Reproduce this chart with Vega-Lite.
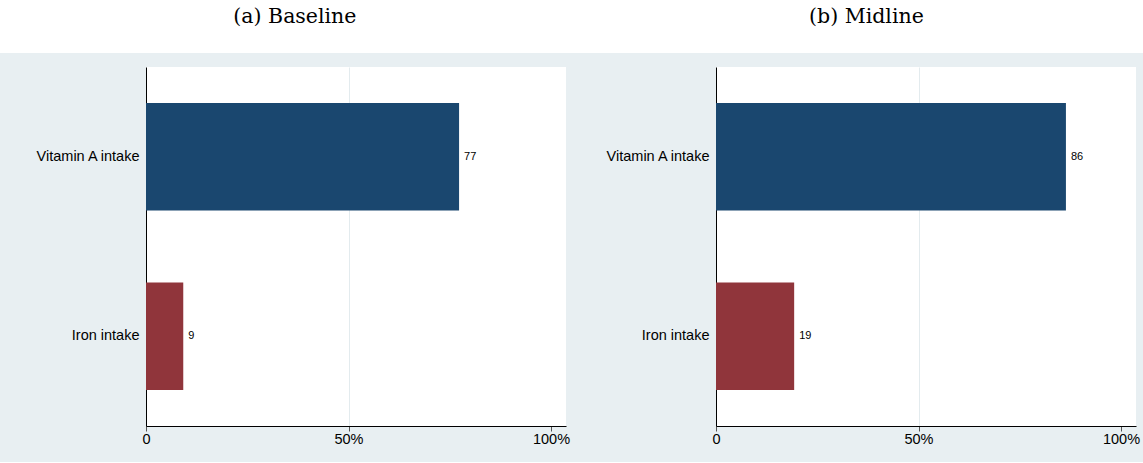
{
  "$schema": "https://vega.github.io/schema/vega-lite/v6.json",
  "background": "#e8eff2",
  "padding": {"left": 0, "top": 0, "right": 0, "bottom": 16},
  "datasets": {
    "titles": [{"panel": "(a) Baseline"}, {"panel": "(b) Midline"}],
    "bars": [
      {"panel": "(a) Baseline", "item": "Vitamin A intake", "value": 77.3},
      {"panel": "(a) Baseline", "item": "Iron intake", "value": 9.2},
      {"panel": "(b) Midline", "item": "Vitamin A intake", "value": 86.4},
      {"panel": "(b) Midline", "item": "Iron intake", "value": 19.3}
    ],
    "empty": []
  },
  "config": {
    "view": {"stroke": null},
    "axis": {"labelFont": "Liberation Sans", "labelColor": "#000000"}
  },
  "columns": 1,
  "spacing": 14,
  "concat": [
    {
      "width": 1143,
      "height": 53,
      "view": {"fill": "white", "stroke": null},
      "data": {"name": "titles"},
      "mark": {"type": "text", "font": "DejaVu Serif", "fontSize": 20.5, "baseline": "alphabetic", "dy": -3.5, "color": "#000000"},
      "encoding": {
        "x": {"field": "panel", "type": "nominal", "scale": {"type": "point", "padding": 0.5, "align": 0.516}, "axis": null},
        "text": {"field": "panel"}
      }
    },
    {
      "hconcat": [
        {
          "width": 8,
          "height": 359,
          "view": {"fill": "#e8eff2", "stroke": null},
          "data": {"name": "empty"},
          "mark": "point"
        },
        {
          "width": 420,
          "height": 359,
          "view": {"fill": "white", "stroke": null},
          "data": {"name": "bars"},
          "transform": [{"filter": "datum.panel === '(a) Baseline'"}],
          "encoding": {
            "y": {"field": "item", "type": "nominal", "sort": null,
                  "scale": {"paddingInner": 0.4, "paddingOuter": 0.2},
                  "axis": {"title": null, "domainColor": "#000000", "ticks": false, "tickSize": 0, "labelPadding": 7, "labelFontSize": 14.5, "minExtent": 132, "grid": false}},
            "x": {"field": "value", "type": "quantitative",
                  "scale": {"domain": [0, 103.7], "nice": false, "zero": true},
                  "axis": {"title": null, "values": [0, 50, 100], "labelExpr": "datum.value === 0 ? '0' : datum.value + '%'", "domainColor": "#000000", "tickColor": "#555555", "tickSize": 5, "labelPadding": 1, "labelFontSize": 14.5, "labelFlush": false, "labelOverlap": false, "grid": true, "gridColor": {"condition": {"test": "datum.value === 50", "value": "#e3ebee"}, "value": "transparent"}}}
          },
          "layer": [
            {"mark": {"type": "bar"},
             "encoding": {"color": {"field": "item", "type": "nominal", "scale": {"domain": ["Vitamin A intake", "Iron intake"], "range": ["#1a476f", "#90353b"]}, "legend": null}}},
            {"mark": {"type": "text", "align": "left", "baseline": "middle", "dx": 5, "fontSize": 11, "font": "Liberation Sans", "color": "#000000"},
             "encoding": {"text": {"field": "value", "type": "quantitative", "format": ".0f"}}}
          ]
        },
        {
          "width": 420,
          "height": 359,
          "view": {"fill": "white", "stroke": null},
          "data": {"name": "bars"},
          "transform": [{"filter": "datum.panel === '(b) Midline'"}],
          "encoding": {
            "y": {"field": "item", "type": "nominal", "sort": null,
                  "scale": {"paddingInner": 0.4, "paddingOuter": 0.2},
                  "axis": {"title": null, "domainColor": "#000000", "ticks": false, "tickSize": 0, "labelPadding": 7, "labelFontSize": 14.5, "minExtent": 140, "grid": false}},
            "x": {"field": "value", "type": "quantitative",
                  "scale": {"domain": [0, 103.7], "nice": false, "zero": true},
                  "axis": {"title": null, "values": [0, 50, 100], "labelExpr": "datum.value === 0 ? '0' : datum.value + '%'", "domainColor": "#000000", "tickColor": "#555555", "tickSize": 5, "labelPadding": 1, "labelFontSize": 14.5, "labelFlush": false, "labelOverlap": false, "grid": true, "gridColor": {"condition": {"test": "datum.value === 50", "value": "#e3ebee"}, "value": "transparent"}}}
          },
          "layer": [
            {"mark": {"type": "bar"},
             "encoding": {"color": {"field": "item", "type": "nominal", "scale": {"domain": ["Vitamin A intake", "Iron intake"], "range": ["#1a476f", "#90353b"]}, "legend": null}}},
            {"mark": {"type": "text", "align": "left", "baseline": "middle", "dx": 5, "fontSize": 11, "font": "Liberation Sans", "color": "#000000"},
             "encoding": {"text": {"field": "value", "type": "quantitative", "format": ".0f"}}}
          ]
        }
      ],
      "spacing": 6,
      "resolve": {"scale": {"x": "independent", "y": "independent", "color": "independent"}}
    }
  ]
}
